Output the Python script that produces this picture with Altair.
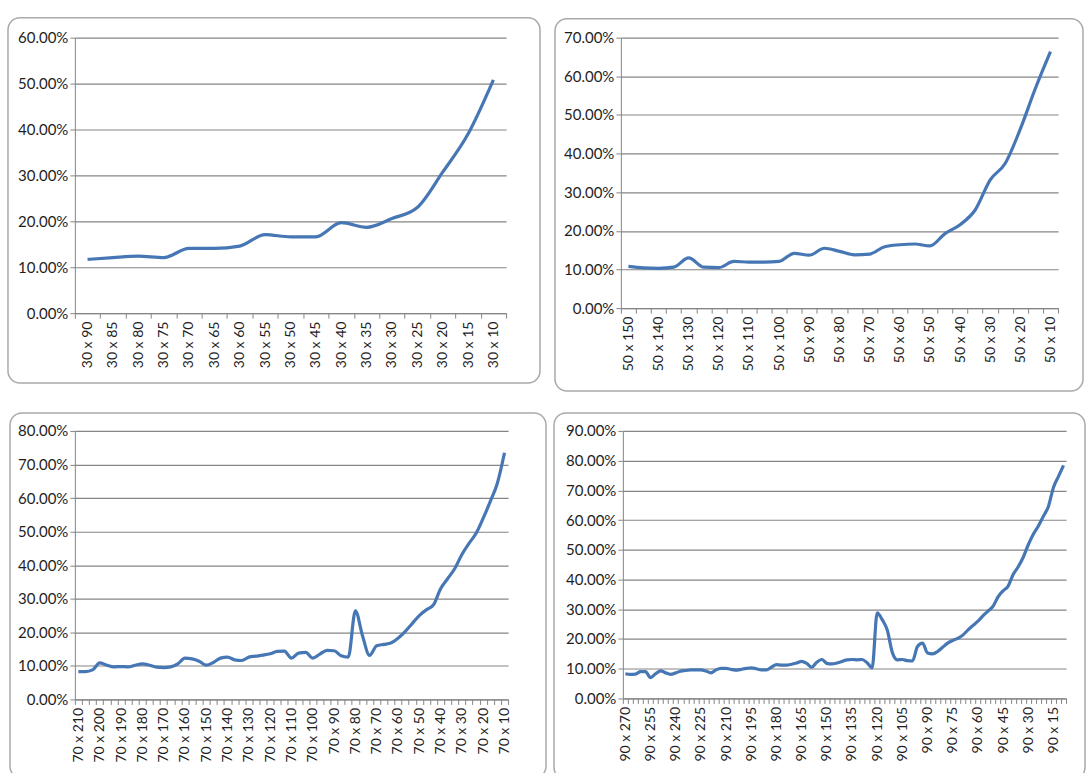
import altair as alt
import pandas as pd

# ---- panel 1: 30 x N -------------------------------------------------------
P1_LABELS = ["30 x 90", "30 x 85", "30 x 80", "30 x 75", "30 x 70", "30 x 65",
             "30 x 60", "30 x 55", "30 x 50", "30 x 45", "30 x 40", "30 x 35",
             "30 x 30", "30 x 25", "30 x 20", "30 x 15", "30 x 10"]
P1_VALUES = [11.7, 12.1, 12.4, 12.1, 14.1, 14.1, 14.6, 17.1, 16.6, 16.6,
             19.7, 18.7, 20.6, 23.0, 30.7, 39.0, 50.8]

# ---- panel 2: 50 x N -------------------------------------------------------
P2_LABELS = ["50 x 150", "50 x 140", "50 x 130", "50 x 120", "50 x 110",
             "50 x 100", "50 x 90", "50 x 80", "50 x 70", "50 x 60", "50 x 50",
             "50 x 40", "50 x 30", "50 x 20", "50 x 10"]
P2_VALUES = [10.8, 10.4, 10.3, 10.6, 13.0, 10.6, 10.5, 12.1, 11.9, 11.9,
             12.1, 14.2, 13.7, 15.5, 14.7, 13.8, 14.0, 15.9, 16.4, 16.6,
             16.1, 19.3, 21.6, 25.4, 33.2, 37.5, 46.4, 56.9, 66.4]

# ---- panel 3: 70 x N -------------------------------------------------------
P3_LABELS = ["70 x 210", "70 x 200", "70 x 190", "70 x 180", "70 x 170",
             "70 x 160", "70 x 150", "70 x 140", "70 x 130", "70 x 120",
             "70 x 110", "70 x 100", "70 x 90", "70 x 80", "70 x 70",
             "70 x 60", "70 x 50", "70 x 40", "70 x 30", "70 x 20", "70 x 10"]
P3_VALUES = [8.3, 8.3, 8.8, 10.9, 10.2, 9.7, 9.8, 9.7, 10.2, 10.6,
             10.2, 9.6, 9.5, 9.7, 10.6, 12.3, 12.1, 11.4, 10.2, 11.0,
             12.3, 12.6, 11.8, 11.6, 12.6, 12.9, 13.2, 13.6, 14.3, 14.4,
             12.3, 13.8, 14.0, 12.3, 13.5, 14.6, 14.5, 13.0, 12.6, 26.4,
             19.0, 13.1, 16.0, 16.4, 16.8, 18.2, 20.2, 22.6, 25.0, 26.7,
             28.2, 33.0, 36.0, 39.0, 43.2, 46.5, 49.5, 54.0, 59.0, 64.5,
             73.5]

# ---- panel 4: 90 x N -------------------------------------------------------
P4_LABELS = ["90 x 270", "90 x 255", "90 x 240", "90 x 225", "90 x 210",
             "90 x 195", "90 x 180", "90 x 165", "90 x 150", "90 x 135",
             "90 x 120", "90 x 105", "90 x 90", "90 x 75", "90 x 60",
             "90 x 45", "90 x 30", "90 x 15"]
P4_VALUES = [8.3, 8.1, 8.2, 9.0, 9.0, 7.0, 8.3, 9.3, 8.6, 8.1,
             8.6, 9.2, 9.4, 9.6, 9.6, 9.6, 9.2, 8.6, 9.6, 10.1,
             10.1, 9.8, 9.5, 9.8, 10.1, 10.3, 10.0, 9.6, 9.6, 10.5,
             11.4, 11.2, 11.2, 11.5, 11.9, 12.5, 11.8, 10.5, 12.2, 13.1,
             11.8, 11.6, 11.9, 12.4, 13.0, 13.1, 13.0, 13.1, 12.0, 10.3,
             28.8, 26.5, 23.0, 15.5, 13.0, 13.1, 12.7, 12.6, 17.5, 18.6,
             15.3, 15.0, 15.8, 17.2, 18.6, 19.5, 20.2, 21.3, 23.0, 24.5,
             26.0, 27.8, 29.4, 31.0, 34.2, 36.2, 37.8, 41.7, 44.3, 47.5,
             51.7, 55.2, 58.0, 61.3, 64.6, 71.0, 74.7, 78.4]

LINE = "#4677B4"
GRID = "#858585"
BOX = "#A9A9A9"
TEXT = "#1E1E1E"
FONT = "Lato"

ONE_ROW = pd.DataFrame({"k": [0]})


def panel(labels, values, step, ymax, width, height, cell, box):
    n = len(values)
    df = pd.DataFrame({"i": list(range(n)), "share": [v / 100 for v in values]})
    tick_text = [labels[i // step] if i % step == 0 and i // step < len(labels) else ""
                 for i in range(n)]
    label_expr = "[" + ",".join("'" + t + "'" for t in tick_text) + "][datum.value]"
    y_ticks = [round(k * 0.1, 2) for k in range(int(round(ymax * 10)) + 1)]

    x = alt.X(
        "i:O",
        sort="ascending",
        bandPosition=0.5,
        scale=alt.Scale(type="band", paddingInner=0, paddingOuter=0),
        axis=alt.Axis(
            title=None, labelAngle=270, labelExpr=label_expr, labelOverlap=False,
            tickBand="extent", tickSize=5, tickColor=GRID, domainColor=GRID,
            labelFont=FONT, labelFontSize=14, labelColor=TEXT, labelPadding=3,
            grid=False,
        ),
    )
    y = alt.Y(
        "share:Q",
        scale=alt.Scale(domain=[0, ymax], nice=False, zero=True),
        axis=alt.Axis(
            title=None, values=y_ticks, format=".2%", tickSize=5,
            tickColor=GRID, domainColor=GRID, gridColor=GRID, gridWidth=1.2,
            labelFont=FONT, labelFontSize=15, labelColor=TEXT, labelPadding=2,
        ),
    )

    # invisible cell that fixes this panel's footprint in the 2x2 grid
    cell_rect = alt.Chart(ONE_ROW).mark_rect(opacity=0).encode(
        x=alt.value(cell[0]), x2=alt.value(cell[1]),
        y=alt.value(cell[2]), y2=alt.value(cell[3]),
    )
    # rounded frame around the panel
    frame = alt.Chart(ONE_ROW).mark_rect(
        filled=False, stroke=BOX, strokeWidth=1.5, cornerRadius=12
    ).encode(
        x=alt.value(box[0]), x2=alt.value(box[1]),
        y=alt.value(box[2]), y2=alt.value(box[3]),
    )
    line = alt.Chart(df).mark_line(
        color=LINE, strokeWidth=3.2, interpolate="monotone"
    ).encode(x=x, y=y)

    return alt.layer(cell_rect, frame, line).properties(width=width, height=height)


p1 = panel(P1_LABELS, P1_VALUES, 1, 0.6, 432, 276,
           (-75, 473, -37, 357), (-67, 466, -20, 346))
p2 = panel(P2_LABELS, P2_VALUES, 2, 0.7, 438, 271,
           (-74, 465, -29, 365), (-66, 463, -19, 354))
p3 = panel(P3_LABELS, P3_VALUES, 3, 0.8, 434, 269,
           (-73, 475, -29, 350), (-65, 472, -18, 348))
p4 = panel(P4_LABELS, P4_VALUES, 5, 0.9, 444, 268,
           (-74, 465, -27, 352), (-69, 463, -18, 349))

chart = alt.vconcat(
    alt.hconcat(p1, p2, spacing=0),
    alt.hconcat(p3, p4, spacing=0),
    spacing=0,
).properties(
    padding=0, background="white"
).configure_view(
    stroke=None
).configure_concat(
    spacing=0
)

chart.save("out.html", embed_options={"renderer": "svg", "actions": False})
